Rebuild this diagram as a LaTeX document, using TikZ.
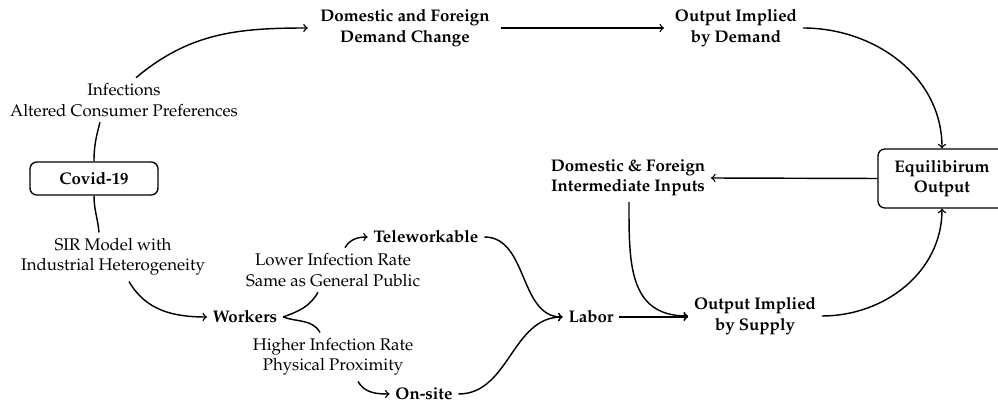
\documentclass[tikz,border=0pt]{standalone}
\usepackage[T1]{fontenc}
\IfFileExists{mathpazo.sty}{\usepackage{mathpazo}}{\IfFileExists{palatino.sty}{\usepackage{palatino}}{}}
\usetikzlibrary{calc}

\begin{document}
\begin{tikzpicture}[x=0.594pt,y=0.594pt,yscale=-1,xscale=1,
  boxnode/.style={draw, line width=0.8pt, rounded corners=4pt, font=\bfseries, align=center, minimum width=76pt},
  mainnode/.style={font=\bfseries, align=center},
  labelnode/.style={align=center},
  flow/.style={->, line width=0.85pt}]
\useasboundingbox (0,0) rectangle (998,402);
%y axis points down, so angles below are mirrored (-90 is up)

%Node: Covid box
\node[boxnode, minimum height=19.6pt] (covid) at (94,178.5) {Covid-19};
%Node: Equilibrium box
\node[boxnode, minimum height=35pt] (eq) at (942,178.5) {Equilibirum\\Output};
%Node: demand side
\node[mainnode] (dem) at (405,28) {Domestic and Foreign\\Demand Change};
\node[mainnode] (outd) at (736,28) {Output Implied\\by Demand};
%Node: supply side
\node[mainnode] (inter) at (628,178) {Domestic \& Foreign\\Intermediate Inputs};
\node[mainnode] (sup) at (755,316) {Output Implied\\by Supply};
\node[mainnode] (labor) at (591,317) {Labor};
\node[mainnode] (workers) at (245,317) {Workers};
\node[mainnode] (tele) at (426,237) {Teleworkable};
\node[mainnode] (onsite) at (424,394) {On-site};
%Node: labels on curves
\node[labelnode] (infl) at (124,100) {Infections\\Altered Consumer Preferences};
\node[labelnode] (sir) at (113,257) {SIR Model with\\Industrial Heterogeneity};
\node[labelnode] (low) at (333,270) {Lower Infection Rate\\Same as General Public};
\node[labelnode] (high) at (333,357) {Higher Infection Rate\\Physical Proximity};

%Curves: demand channel
\draw[line width=0.85pt] (covid.north) to[out=-90,in=105] ($(infl.south)+(-24,0)$);
\draw[flow] ($(infl.north)+(12,0)$) to[out=-40,in=180] ([xshift=-4pt]dem.west);
\draw[flow] ([xshift=3pt]dem.east) -- ([xshift=-3pt]outd.west);
\draw[flow] (outd.east) to[out=0,in=-90] (eq.north);
%Curves: intermediate inputs
\draw[flow] (eq.west) -- (inter.east);
\draw[flow] ($(inter.south)+(1,0)$) to[out=90,in=180,looseness=1.2] (sup.west);
\draw[flow] (labor.east) -- (labor.east -| sup.west);
\draw[flow] (sup.east) to[out=0,in=90] (eq.south);
%Curves: labor channel
\draw[line width=0.85pt] (covid.south) to[out=90,in=-95] ($(sir.north)+(-14,0)$);
\draw[flow] ($(sir.south)+(16,0)$) to[out=60,in=180] (workers.west);
\draw[line width=0.85pt] (workers.east) to[out=-20,in=120] ($(low.south)+(-15,0)$);
\draw[flow] ($(low.north)+(12,0)$) to[out=-60,in=180] (tele.west);
\draw[line width=0.85pt] (workers.east) to[out=20,in=-120] ($(high.north)+(-13,0)$);
\draw[flow] ($(high.south)+(25,0)$) to[out=60,in=180] (onsite.west);
\draw[flow] (tele.east) to[out=0,in=180] (labor.west);
\draw[flow] (onsite.east) to[out=0,in=180] (labor.west);

\end{tikzpicture}
\end{document}
